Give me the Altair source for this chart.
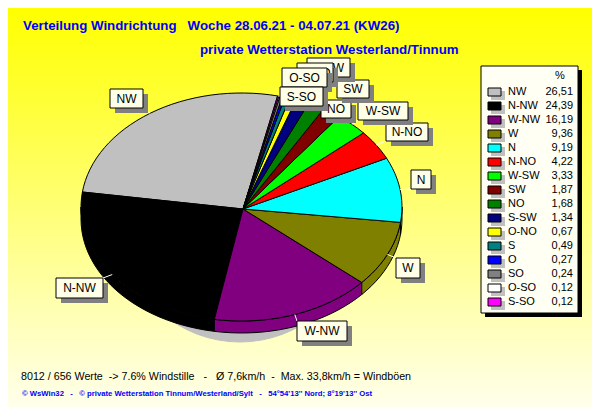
import math
import altair as alt

# ---- data ----
names = ["NW", "N-NW", "W-NW", "W", "N", "N-NO", "W-SW", "SW", "NO", "S-SW", "O-NO", "S", "O", "SO", "O-SO", "S-SO"]
shares = [26.51, 24.39, 16.19, 9.36, 9.19, 4.22, 3.33, 1.87, 1.68, 1.34, 0.67, 0.49, 0.27, 0.24, 0.12, 0.12]
colors = ["#c0c0c0", "#000000", "#800080", "#808000", "#00ffff", "#ff0000", "#00ff00", "#800000",
          "#008000", "#000080", "#ffff00", "#008080", "#0000ff", "#808080", "#ffffff", "#ff00ff"]
NB = "\u00a0"
title1 = f"Verteilung Windrichtung{NB*3}Woche 28.06.21 - 04.07.21 (KW26)"
title2 = "private Wetterstation Westerland/Tinnum"
foot1 = f"8012 / 656 Werte{NB*2}-> 7.6% Windstille{NB*3}-{NB*3}Ø 7,6km/h{NB*2}-{NB*2}Max. 33,8km/h = Windböen"
foot2 = f"© WsWin32{NB*3}-{NB*3}© private Wetterstation Tinnum/Westerland/Sylt{NB*3}-{NB*3}54°54'13'' Nord; 8°19'13'' Ost"

# ---- layout (page pixels) ----
M, XMAX, YMAX = 8, 592, 407
CX, CY, RX, RY = 241.5, 207, 160.5, 114
APEX = (243, 209)
DEPTH = 12
START = 77
BOXES = {  # label: (x0, y0, x1, y1), in paint order
    "NW": (110, 89, 143, 108), "N-NW": (56, 278, 103, 298), "W-NW": (297, 321, 347, 341),
    "W": (396, 258, 420, 278), "N": (411, 170, 431, 189), "N-NO": (386, 123, 428, 141),
    "W-SW": (358, 102, 408, 120), "NO": (321, 100, 351, 118), "SW": (337, 80, 369, 98),
    "S-SW": (307, 58, 350, 77), "O-NO": (297, 63, 333, 82),
    "O-SO": (282, 68, 327, 87), "S-SO": (280, 87, 323, 106),
}

x_enc = dict(scale=alt.Scale(domain=[M, XMAX], nice=False, zero=False), axis=None)
y_enc = dict(scale=alt.Scale(domain=[YMAX, M], nice=False, zero=False), axis=None)


def pt(a, dy=0):
    r = math.radians(a)
    return [CX + RX * math.cos(r), CY + dy - RY * math.sin(r)]


def arc(a0, a1, dy=0, n=None):
    n = n or max(2, int(abs(a1 - a0) / 3) + 1)
    return [pt(a0 + (a1 - a0) * i / n, dy) for i in range(n + 1)]


def feature(name, ring):
    return {"type": "Feature", "properties": {"name": name},
            "geometry": {"type": "Polygon", "coordinates": [ring + [ring[0]]]}}


# slice angles
edges = [START]
for s in shares:
    edges.append(edges[-1] + s / sum(shares) * 360)

side_feats, top_feats, mids = [], [], {}
for name, a0, a1 in zip(names, edges[:-1], edges[1:]):
    mids[name] = (a0 + a1) / 2
    top_feats.append(feature(name, [list(APEX)] + arc(a0, a1)))
    for shift in (0, 360):
        lo, hi = max(a0, 180 + shift), min(a1, 360 + shift)
        if lo < hi:
            top = arc(lo, hi)
            side_feats.append(feature(name, top + arc(hi, lo, DEPTH)))

color_scale = alt.Scale(domain=names, range=colors)


def geo(feats):
    return alt.Chart(alt.Data(values=feats)).mark_geoshape(stroke="#000000", strokeWidth=1).encode(
        fill=alt.Fill("properties.name:N", scale=color_scale, legend=None)
    ).project(type="identity", scale=1, translate=[-M, -M])


def rects(rows, **mark):
    return alt.Chart(alt.Data(values=rows)).mark_rect(**mark).encode(
        x=alt.X("x0:Q", **x_enc), x2="x1:Q",
        y=alt.Y("y0:Q", **y_enc), y2="y1:Q",
    )


def text(txt, x, y, align="left", size=11, color="#000000", weight="normal", font="Liberation Sans"):
    return alt.Chart(alt.Data(values=[{"x": x, "y": y, "t": txt}])).mark_text(
        align=align, baseline="middle", fontSize=size, color=color, fontWeight=weight, font=font
    ).encode(x=alt.X("x:Q", **x_enc), y=alt.Y("y:Q", **y_enc), text="t:N")


layers = []

# background gradient
bg = alt.LinearGradient(gradient="linear", x1=0, x2=0, y1=0, y2=1,
                        stops=[alt.GradientStop(offset=0, color="#ffff00"),
                               alt.GradientStop(offset=1, color="#ffffec")])
layers.append(rects([{"x0": M, "x1": XMAX, "y0": M, "y1": YMAX}], color=bg))

# pie shadow (only the lower half shows under the pie)
shadow = [[240 + 125 * math.cos(math.radians(a)), 212 + 130 * math.sin(math.radians(a))] for a in range(0, 181, 5)]
layers.append(alt.Chart(alt.Data(values=[feature("shadow", shadow)])).mark_geoshape(
    fill="#c0c0c0", stroke="#c0c0c0", strokeWidth=1).project(type="identity", scale=1, translate=[-M, -M]))

layers.append(geo(side_feats))
layers.append(geo(top_feats))

# leader lines
leaders = []
for name, (x0, y0, x1, y1) in BOXES.items():
    p = pt(mids[name])
    q = [min(max(p[0], x0), x1), min(max(p[1], y0), y1)]
    leaders.append({"x": p[0], "y": p[1], "x2": q[0], "y2": q[1]})
layers.append(alt.Chart(alt.Data(values=leaders)).mark_rule(color="#ffffff", strokeWidth=1).encode(
    x=alt.X("x:Q", **x_enc), x2="x2:Q", y=alt.Y("y:Q", **y_enc), y2="y2:Q"))

# callouts
for name, (x0, y0, x1, y1) in BOXES.items():
    layers.append(rects([{"x0": x0 + 5, "x1": x1 + 5, "y0": y0 + 5, "y1": y1 + 5}], color="#808080"))
    layers.append(rects([{"x0": x0, "x1": x1, "y0": y0, "y1": y1}], fill="#ffffe8", stroke="#000000", strokeWidth=1))
    layers.append(text(name, (x0 + x1) / 2, (y0 + y1) / 2, align="center", size=12))

# legend
LX0, LY0, LX1, LY1 = 481, 66, 578, 313
layers.append(rects([{"x0": LX0 + 4, "x1": LX1 + 4, "y0": LY0 + 4, "y1": LY1 + 4}], color="#000000"))
layers.append(rects([{"x0": LX0, "x1": LX1, "y0": LY0, "y1": LY1}], fill="#fffff4", stroke="#000000", strokeWidth=1))
layers.append(text("%", 560, 76, align="center", size=11))
ROW0, STEP = 92, 14
layers.append(rects([{"x0": 491, "x1": 505, "y0": ROW0 - 1 + STEP * i, "y1": ROW0 + 8 + STEP * i}
                     for i in range(len(names))], color="#c0c0c0"))
swatch = alt.Chart(alt.Data(values=[
    {"x0": 488, "x1": 501, "y0": ROW0 - 4 + STEP * i, "y1": ROW0 + 4 + STEP * i, "name": n}
    for i, n in enumerate(names)])).mark_rect(stroke="#000000", strokeWidth=1).encode(
    x=alt.X("x0:Q", **x_enc), x2="x1:Q", y=alt.Y("y0:Q", **y_enc), y2="y1:Q",
    fill=alt.Fill("name:N", scale=color_scale, legend=None))
layers.append(swatch)
for i, (n, s) in enumerate(zip(names, shares)):
    layers.append(text(n, 508, ROW0 + STEP * i))
    layers.append(text(f"{s:.2f}".replace(".", ","), 573, ROW0 + STEP * i, align="right"))

# titles and footers
layers.append(text(title1, 23, 25.5, size=13.3, color="#0000ff", weight="bold"))
layers.append(text(title2, 200, 49.5, size=13.3, color="#0000ff", weight="bold"))
layers.append(text(foot1, 21, 377, size=10.7))
layers.append(text(foot2, 22, 394, size=7.7, color="#0000ff", weight="bold"))

chart = alt.layer(*layers).resolve_scale(fill="independent").properties(
    width=XMAX - M, height=YMAX - M, padding=0, autosize=alt.AutoSizeParams(type="none")
).configure_view(stroke=None)

chart.save("out.html", embed_options={"renderer": "svg", "actions": False})
